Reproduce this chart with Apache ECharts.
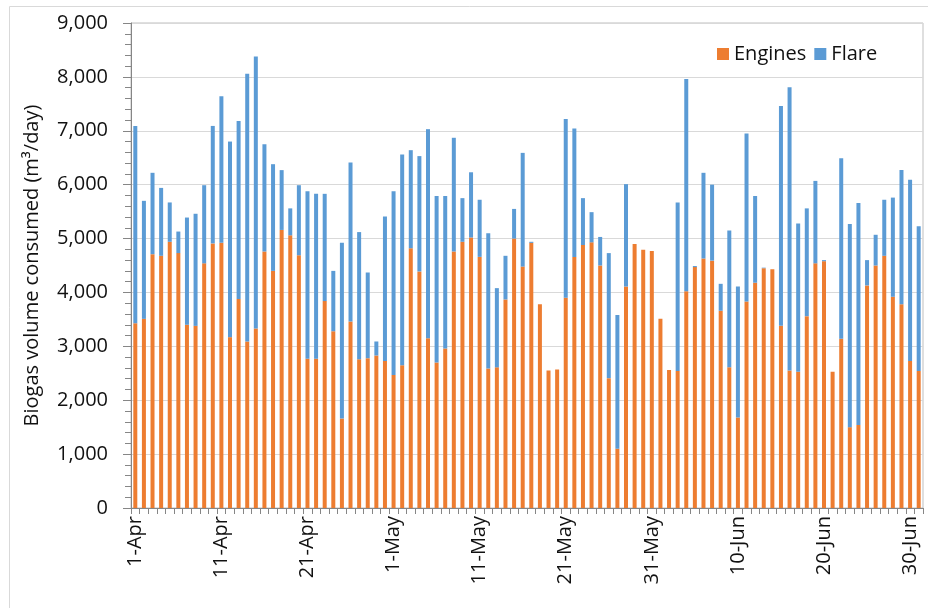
<!DOCTYPE html>
<html>
<head>
<meta charset="utf-8">
<title>Biogas volume consumed</title>
<script src="https://cdn.jsdelivr.net/npm/echarts@6/dist/echarts.min.js"></script>
<style>
    html, body { margin: 0; padding: 0; background: #fff; }
    #main { width: 928px; height: 608px; }
</style>
</head>
<body>
<div id="main"></div>
<script>
// months shown on the axis (name, number of days in the chart)
var months = [['Apr', 30], ['May', 31], ['Jun', 30], ['Jul', 1]];

// biogas burnt in the engines, m3/day, 1-Apr .. 1-Jul
var engines = [
    3430, 3510, 4710, 4680, 4940, 4730, 3400, 3380, 4540, 4910,
    4920, 3170, 3880, 3090, 3330, 4760, 4400, 5160, 5060, 4690,
    2770, 2770, 3840, 3280, 1660, 3460, 2760, 2780, 2830, 2730,
    2470, 2650, 4820, 4390, 3150, 2700, 2960, 4760, 4940, 5020,
    4660, 2590, 2610, 3870, 5000, 4480, 4920, 3780, 2550, 2570,
    3900, 4660, 4880, 4930, 4500, 2410, 1100, 4110, 4900, 4790,
    4770, 3510, 2560, 2540, 4020, 4470, 4630, 4590, 3660, 2610,
    1680, 3830, 4180, 4450, 4430, 3380, 2550, 2530, 3560, 4540,
    4580, 2530, 3140, 1500, 1540, 4130, 4500, 4680, 3920, 3780,
    2730, 2540
];

// biogas sent to the flare, m3/day
var flare = [
    3660, 2190, 1510, 1260, 730, 400, 1990, 2080, 1450, 2180,
    2720, 3630, 3300, 4970, 5050, 1990, 1980, 1110, 500, 1300,
    3110, 3060, 1990, 1120, 3260, 2950, 2360, 1590, 260, 2680,
    3410, 3910, 1820, 2140, 3880, 3090, 2830, 2110, 810, 1210,
    1060, 2510, 1470, 810, 550, 2110, 20, 0, 0, 0,
    3320, 2380, 870, 560, 530, 2320, 2480, 1900, 0, 0,
    0, 0, 0, 3130, 3940, 20, 1590, 1410, 500, 2540,
    2430, 3120, 1610, 10, 0, 4080, 5260, 2750, 2000, 1530,
    20, 0, 3350, 3770, 4120, 470, 570, 1040, 1840, 2490,
    3360, 2690
];

var days = [];
months.forEach(function (m) {
    for (var d = 1; d <= m[1]; d++) {
        days.push(d + '-' + m[0]);
    }
});

var yTicks = { min: 0, max: 9000, interval: 1000 };

var chartDom = document.getElementById('main');
var myChart = echarts.init(chartDom);
var font = '"Open Sans", "Liberation Sans", sans-serif';

var option = {
    animation: false,
    textStyle: { fontFamily: font },
    graphic: [
        {
            type: 'rect',
            left: 7, top: 4,
            shape: { width: 1000, height: 1000 },
            style: { fill: 'none', stroke: '#d9d9d9', lineWidth: 1 },
            silent: true
        }
    ],
    legend: {
        data: ['Engines', 'Flare'],
        left: 712,
        top: 39,
        icon: 'rect',
        itemWidth: 12,
        itemHeight: 12,
        itemGap: 8,
        textStyle: { fontSize: 20, color: '#111', fontFamily: font }
    },
    grid: {
        left: 131,
        right: 5,
        top: 23,
        bottom: 100,
        show: true,
        borderColor: '#bfbfbf',
        borderWidth: 1
    },
    xAxis: {
        type: 'category',
        data: days,
        boundaryGap: true,
        axisLine: { lineStyle: { color: '#868686', width: 1 } },
        axisTick: {
            show: true,
            interval: 0,
            length: 6,
            lineStyle: { color: '#868686' }
        },
        axisLabel: {
            interval: 9,
            rotate: 90,
            margin: 8,
            fontSize: 20,
            color: '#111',
            fontFamily: font
        },
        splitLine: { show: false }
    },
    yAxis: {
        type: 'value',
        min: yTicks.min,
        max: yTicks.max,
        interval: yTicks.interval,
        name: 'Biogas volume consumed (m³/day)',
        nameLocation: 'middle',
        nameGap: 89,
        nameTextStyle: { fontSize: 20, color: '#111', fontFamily: font },
        axisLine: { show: true, lineStyle: { color: '#868686' } },
        axisTick: { show: true, length: 8, lineStyle: { color: '#868686' } },
        minorTick: { show: true, splitNumber: 5, length: 6, lineStyle: { color: '#868686' } },
        axisLabel: {
            margin: 23,
            fontSize: 20,
            color: '#111',
            fontFamily: font,
            formatter: function (v) {
                return v.toLocaleString('en-US');
            }
        },
        splitLine: { show: true, lineStyle: { color: '#d9d9d9', width: 1 } }
    },
    series: [
        {
            name: 'Engines',
            type: 'bar',
            stack: 'total',
            barWidth: 4,
            itemStyle: { color: '#ED7D31' },
            data: engines
        },
        {
            name: 'Flare',
            type: 'bar',
            stack: 'total',
            barWidth: 4,
            itemStyle: { color: '#5B9BD5' },
            data: flare
        }
    ]
};

myChart.setOption(option);
</script>
</body>
</html>
